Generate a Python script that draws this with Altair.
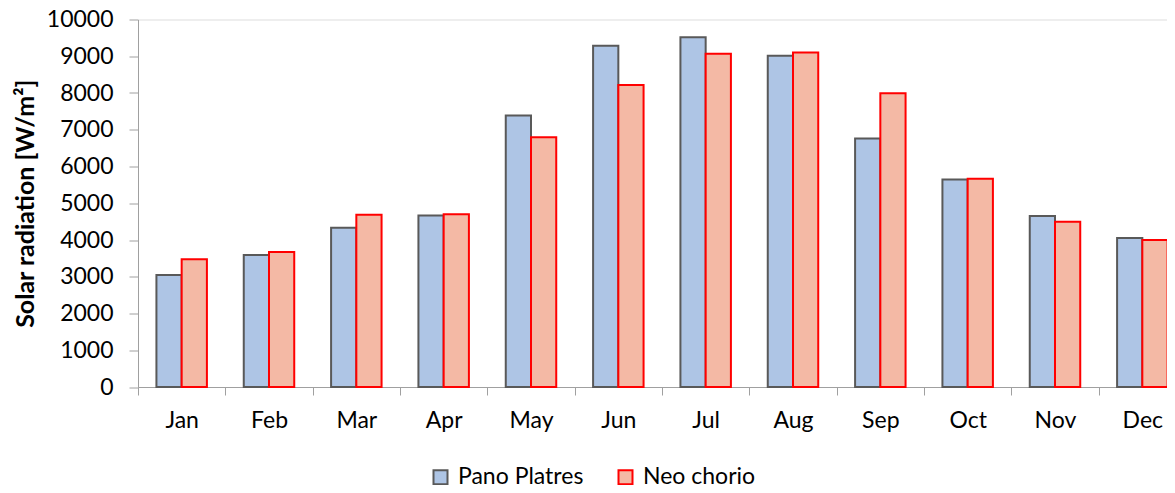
import altair as alt
import pandas as pd

months = ["Jan", "Feb", "Mar", "Apr", "May", "Jun", "Jul", "Aug", "Sep", "Oct", "Nov", "Dec"]
series_names = ["Pano Platres", "Neo chorio"]
pano_platres = [3050, 3590, 4330, 4665, 7390, 9285, 9515, 9015, 6765, 5645, 4655, 4055]
neo_chorio = [3475, 3675, 4690, 4700, 6795, 8220, 9070, 9100, 7990, 5670, 4500, 4000]
y_ticks = [0, 1000, 2000, 3000, 4000, 5000, 6000, 7000, 8000, 9000, 10000]

rows = []
for m, a, b in zip(months, pano_platres, neo_chorio):
    rows.append({"month": m, "series": series_names[0], "value": a})
    rows.append({"month": m, "series": series_names[1], "value": b})
df = pd.DataFrame(rows)

FONT = "Lato"
AXIS_COLOR = "#A0A0A0"

legend_cfg = dict(
    title=None,
    orient="none",
    direction="horizontal",
    legendX=291,
    legendY=446,
    symbolType="square",
    symbolSize=196,
    symbolStrokeWidth=2,
    labelFont=FONT,
    labelFontSize=23,
    labelColor="black",
    labelOffset=6,
    columnPadding=30,
    padding=0,
)

chart = alt.Chart(df).mark_bar(strokeWidth=2).encode(
    x=alt.X(
        "month:N",
        sort=months,
        scale=alt.Scale(range=[0, 1048], paddingInner=0, paddingOuter=0),
        axis=alt.Axis(
            title=None,
            labelAngle=0,
            labelFont=FONT,
            labelFontSize=23,
            labelColor="black",
            labelPadding=14,
            tickBand="extent",
            tickSize=8,
            tickColor=AXIS_COLOR,
            domainColor=AXIS_COLOR,
        ),
    ),
    xOffset=alt.XOffset(
        "series:N",
        sort=series_names,
        scale=alt.Scale(paddingOuter=0.73, paddingInner=0),
    ),
    y=alt.Y(
        "value:Q",
        scale=alt.Scale(domain=[0, 10000], nice=False),
        axis=alt.Axis(
            title="Solar radiation [W/m²]",
            titleFont=FONT,
            titleFontSize=25,
            titleFontWeight="bold",
            titleColor="black",
            titleX=-105,
            titleBaseline="alphabetic",
            values=y_ticks,
            format="d",
            labelFont=FONT,
            labelFontSize=23,
            labelColor="black",
            labelPadding=16,
            tickSize=9,
            tickColor=AXIS_COLOR,
            domainColor=AXIS_COLOR,
            grid=False,
        ),
    ),
    fill=alt.Fill(
        "series:N",
        sort=series_names,
        scale=alt.Scale(domain=series_names, range=["#AEC5E5", "#F4B9A5"]),
        legend=alt.Legend(**legend_cfg),
    ),
    stroke=alt.Stroke(
        "series:N",
        sort=series_names,
        scale=alt.Scale(domain=series_names, range=["#595959", "#FF0000"]),
        legend=alt.Legend(**legend_cfg),
    ),
).properties(
    width=1029,
    height=367.5,
    autosize=alt.AutoSizeParams(type="none"),
    padding={"left": 130, "top": 11.5, "right": 0, "bottom": 98},
).configure_view(
    stroke=None
).configure(
    background="white"
)

chart.save("out.html", embed_options={"renderer": "svg", "actions": False})
